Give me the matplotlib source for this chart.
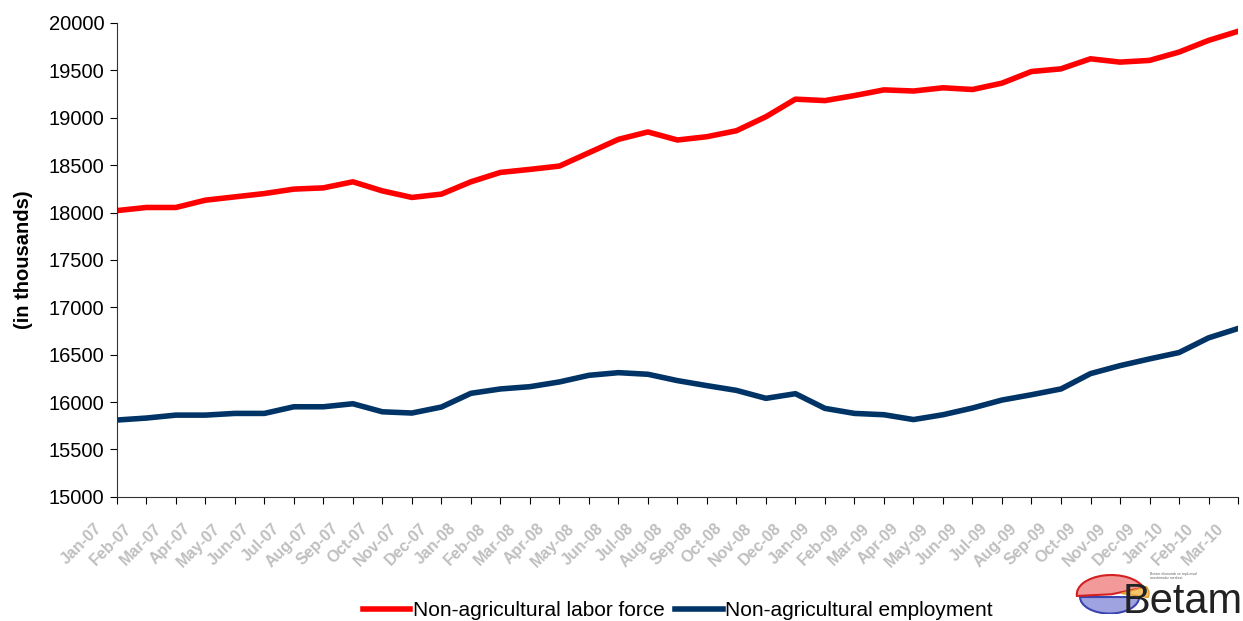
import numpy as np
import matplotlib.pyplot as plt
import matplotlib.transforms as mtransforms
from matplotlib.patches import Wedge

plt.rcParams['font.family'] = ['Liberation Sans', 'DejaVu Sans']

months = ["Jan-07", "Feb-07", "Mar-07", "Apr-07", "May-07", "Jun-07", "Jul-07", "Aug-07",
          "Sep-07", "Oct-07", "Nov-07", "Dec-07", "Jan-08", "Feb-08", "Mar-08", "Apr-08",
          "May-08", "Jun-08", "Jul-08", "Aug-08", "Sep-08", "Oct-08", "Nov-08", "Dec-08",
          "Jan-09", "Feb-09", "Mar-09", "Apr-09", "May-09", "Jun-09", "Jul-09", "Aug-09",
          "Sep-09", "Oct-09", "Nov-09", "Dec-09", "Jan-10", "Feb-10", "Mar-10"]

# non-agricultural labor force (thousands)
labor_force = [18020, 18053, 18053, 18130, 18165, 18200, 18247, 18260,
               18324, 18228, 18159, 18194, 18324, 18423, 18455, 18490,
               18631, 18772, 18850, 18765, 18800, 18863, 19011, 19196,
               19181, 19234, 19294, 19282, 19316, 19298, 19365, 19488,
               19516, 19622, 19587, 19605, 19693, 19816, 19912]

# non-agricultural employment (thousands)
employment = [15810, 15831, 15862, 15862, 15880, 15880, 15950, 15950,
              15982, 15897, 15884, 15947, 16092, 16138, 16162, 16212,
              16282, 16310, 16293, 16226, 16173, 16123, 16039, 16088,
              15933, 15880, 15866, 15815, 15866, 15937, 16021, 16077,
              16138, 16300, 16384, 16455, 16522, 16677, 16776]

x = np.arange(len(months))

fig = plt.figure(figsize=(12.43, 6.21), dpi=100)
ax = fig.add_axes([0.094, 0.2, 0.902, 0.763])

ax.plot(x, labor_force, color="#ff0000", lw=4, label="Non-agricultural labor force")
ax.plot(x, employment, color="#003366", lw=4, label="Non-agricultural employment")

ax.set_xlim(0, len(months) - 1)
ax.set_ylim(15000, 20000)
ax.set_yticks(np.arange(15000, 20001, 500))
ax.set_xticks(x)
ax.tick_params(axis="y", labelsize=14.5, length=5, direction="out", pad=4)
ax.tick_params(axis="x", length=5, direction="out", pad=16)
ax.set_xticklabels(months, rotation=45, ha="right", va="center", rotation_mode="anchor",
                   color="#bfbfbf", fontweight="bold", fontsize=11.5)
# shift labels left like excel does
shift = mtransforms.ScaledTranslation(-0.17, 0, fig.dpi_scale_trans)
for lab in ax.get_xticklabels():
    lab.set_transform(lab.get_transform() + shift)
for s in ["top", "right"]:
    ax.spines[s].set_visible(False)
ax.spines["left"].set_color("#333333")
ax.spines["bottom"].set_color("#333333")
ax.set_ylabel("(in thousands)", fontsize=14.5, fontweight="bold")
ax.yaxis.set_label_coords(-0.075, 0.5)

fig.legend(loc="center", bbox_to_anchor=(0.545, 0.017), ncol=2, frameon=False,
           fontsize=15, handlelength=2.3, handletextpad=0.1, columnspacing=0.5)

# Betam logo (rough)
lax = fig.add_axes([0.861, 0.012, 0.066, 0.065])
lax.set_xlim(-1.2, 1.3)
lax.set_ylim(-1.2, 1.0)
lax.axis("off")
lax.add_patch(Wedge((0.0, -0.3), 0.9, 180, 360, fc="#9fa3e0", ec="#3a44b0", lw=1.5))
lax.add_patch(Wedge((0.05, -0.15), 1.05, 20, 185, fc="#f29a9a", ec="#d42020", lw=1.5))
lax.add_patch(Wedge((0.35, -0.1), 0.85, -15, 25, fc="#f6c46a", ec="#e09a30", lw=1))
fig.text(1.0, -0.002, "Betam", fontsize=30, ha="right", va="bottom", color="#222222")
fig.text(0.925, 0.066, "Betam ekonomik ve toplumsal\narastirmalar merkezi", fontsize=2.5,
         ha="left", va="bottom", color="#666666", linespacing=1.1)

fig.savefig("out.png", dpi=100)
